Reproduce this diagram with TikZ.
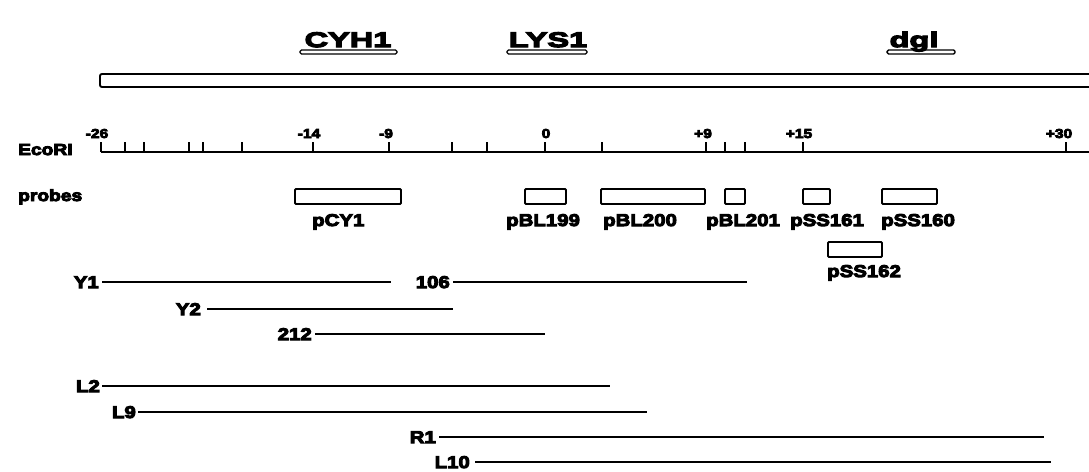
\documentclass[tikz,border=0pt]{standalone}
\usepackage{fontspec}
\newfontfamily\labfont{Liberation Sans}[UprightFont={* Bold},FakeStretch=1.2,FakeBold=6]
\newfontfamily\topfont{Liberation Sans}[UprightFont={* Bold},FakeStretch=1.55,FakeBold=6]
\begin{document}
\begin{tikzpicture}[x=1pt,y=-1pt,
  lab/.style={font={\fontsize{17}{17}\labfont}, inner ysep=0pt, inner xsep=3pt, text height=12pt, text depth=0pt},
  sidelab/.style={font={\fontsize{16}{16}\labfont}, inner sep=0pt},
  toplab/.style={font={\fontsize{21}{21}\topfont}, inner sep=0pt},
  ticklab/.style={font={\fontsize{13}{13}\labfont}, inner sep=0pt},
  seg/.style={line width=1.5pt},
  probebox/.style={line width=1.8pt, rounded corners=1pt},
  genebar/.style={line width=1.4pt, rounded corners=1.5pt},
  tick/.style={line width=1.6pt},
]
\clip (0,0) rectangle (1089,471);
\fill[white] (0,0) rectangle (1089,471);

% gene labels
\node[toplab, anchor=base] (cyh) at (348,47) {CYH1};
\node[toplab, anchor=base] (lys) at (548,47) {LYS1};
\node[toplab, anchor=base] (dgl) at (914,47) {dgl};
\draw[genebar] (300,50) rectangle (397,54);
\draw[genebar] (507,50) rectangle (587,54);
\draw[genebar] (887,50) rectangle (955,54);

% chromosome bar
\draw[line width=1.9pt, rounded corners=2pt] (100,74) rectangle (1110,87);

% EcoRI ruler
\node[sidelab, anchor=base west] (eco) at (18,155) {EcoRI};
\coordinate (r0) at (101,152);
\coordinate (r1) at (1095,152);
\draw[line width=1.9pt] (r0) -- (r1);
\foreach \x in {101,125,144,189,203,242,313,389,452,487,545,602,706,725,745,803,1066}
  \draw[tick] (\x,152) -- (\x,142);
\node[ticklab, anchor=base] (t26) at (97,138) {-26};
\node[ticklab, anchor=base] (t14) at (309,138) {-14};
\node[ticklab, anchor=base] (t9) at (386,138) {-9};
\node[ticklab, anchor=base] (t0) at (546,138) {0};
\node[ticklab, anchor=base] (tp9) at (703,138) {+9};
\node[ticklab, anchor=base] (tp15) at (799,138) {+15};
\node[ticklab, anchor=base] (tp30) at (1059,138) {+30};

% probes
\node[sidelab, anchor=base west] (probes) at (18,201) {probes};
\draw[probebox] (295,189) rectangle (401,204);
\draw[probebox] (525,189) rectangle (566,204);
\draw[probebox] (601,189) rectangle (705,204);
\draw[probebox] (725,189) rectangle (745,204);
\draw[probebox] (803,189) rectangle (830,204);
\draw[probebox] (882,189) rectangle (937,204);
\draw[probebox] (828,242) rectangle (882,257);
\node[lab, anchor=base west, inner xsep=0pt] (pCY1) at (312,226) {pCY1};
\node[lab, anchor=base west, inner xsep=0pt] (pBL199) at (506,226) {pBL199};
\node[lab, anchor=base west, inner xsep=0pt] (pBL200) at (603,226) {pBL200};
\node[lab, anchor=base west, inner xsep=0pt] (pBL201) at (706,226) {pBL201};
\node[lab, anchor=base west, inner xsep=0pt] (pSS161) at (790,226) {pSS161};
\node[lab, anchor=base west, inner xsep=0pt] (pSS160) at (881,226) {pSS160};
\node[lab, anchor=base west, inner xsep=0pt] (pSS162) at (827,277) {pSS162};

% clones
\node[lab, anchor=east] (Y1) at (102,282) {Y1};
\coordinate (Y1e) at (391,282);
\draw[seg] (Y1) -- (Y1e);
\node[lab, anchor=east] (c106) at (453,282) {106};
\coordinate (c106e) at (747,282);
\draw[seg] (c106) -- (c106e);
\node[lab, anchor=east, inner xsep=6pt] (Y2) at (207,309) {Y2};
\coordinate (Y2e) at (453,309);
\draw[seg] (Y2) -- (Y2e);
\node[lab, anchor=east] (c212) at (315,334) {212};
\coordinate (c212e) at (545,334);
\draw[seg] (c212) -- (c212e);
\node[lab, anchor=east, inner xsep=2pt] (L2) at (102,386) {L2};
\coordinate (L2e) at (610,386);
\draw[seg] (L2) -- (L2e);
\node[lab, anchor=east, inner xsep=2pt] (L9) at (138,412) {L9};
\coordinate (L9e) at (647,412);
\draw[seg] (L9) -- (L9e);
\node[lab, anchor=east] (R1) at (439,437) {R1};
\coordinate (R1e) at (1044,437);
\draw[seg] (R1) -- (R1e);
\node[lab, anchor=east, inner xsep=5pt] (L10) at (475,462) {L10};
\coordinate (L10e) at (1051,462);
\draw[seg] (L10) -- (L10e);
\end{tikzpicture}
\end{document}
